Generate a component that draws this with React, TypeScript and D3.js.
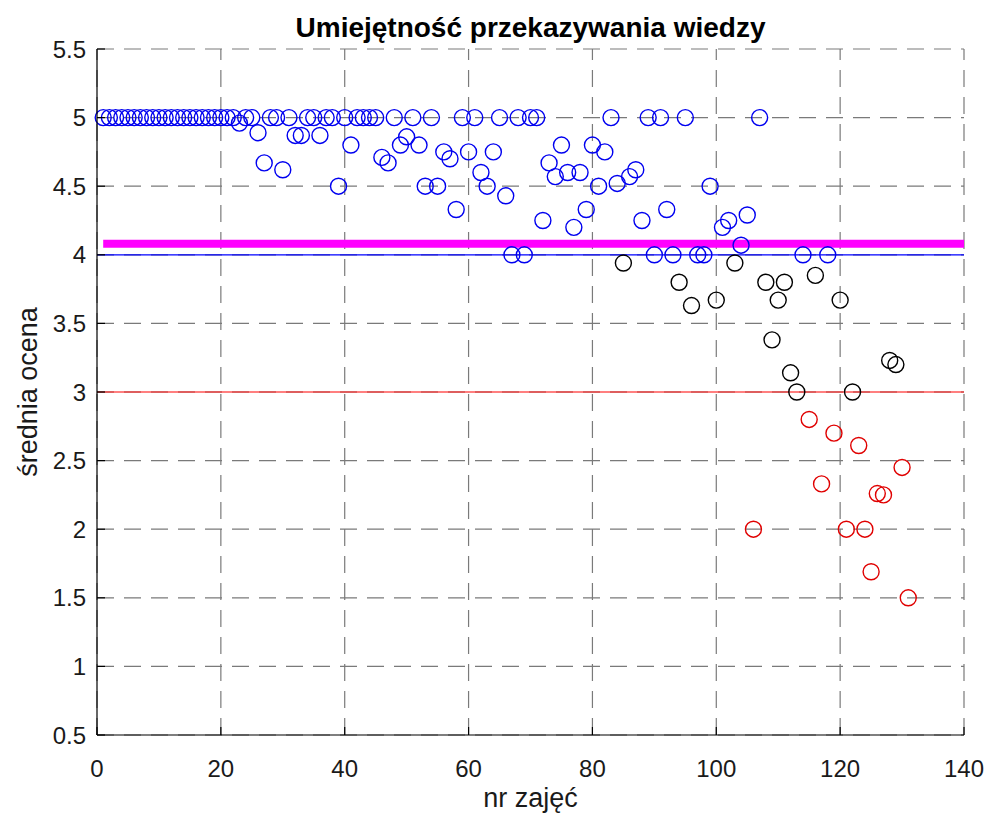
import React from "react";
import * as d3 from "d3";

// Data: lecture number -> mean score
const fives = [1,2,3,4,5,6,7,8,9,10,11,12,13,14,15,16,17,18,19,20,21,22,24,25,28,29,31,34,35,37,38,40,42,43,44,45,48,51,54,59,61,65,68,70,71,83,89,91,95,107];
const otherIdx = [23,26,27,30,32,33,36,39,41,46,47,49,50,52,53,55,56,57,58,60,62,63,64,66,67,69,72,73,74,75,76,77,78,79,80,81,82,84,85,86,87,88,90,92,93,94,96,97,98,99,100,101,102,103,104,105,106,108,109,110,111,112,113,114,115,116,117,118,119,120,121,122,123,124,125,126,127,128,129,130,131];
const otherVal = [4.96,4.89,4.67,4.62,4.87,4.87,4.87,4.5,4.8,4.71,4.67,4.8,4.86,4.8,4.5,4.5,4.75,4.7,4.33,4.75,4.6,4.5,4.75,4.43,4.0,4.0,4.25,4.67,4.57,4.8,4.6,4.2,4.6,4.33,4.8,4.5,4.75,4.52,3.94,4.57,4.62,4.25,4.0,4.33,4.0,3.8,3.63,4.0,4.0,4.5,3.67,4.2,4.25,3.94,4.07,4.29,2.0,3.8,3.38,3.67,3.8,3.14,3.0,4.0,2.8,3.85,2.33,4.0,2.7,3.67,2.0,3.0,2.61,2.0,1.69,2.26,2.25,3.23,3.2,2.45,1.5];

const meanLine = 4.08;
const goodLine = 4;
const badLine = 3;
const xTicks = [0, 20, 40, 60, 80, 100, 120, 140];
const yTicks = [0.5, 1, 1.5, 2, 2.5, 3, 3.5, 4, 4.5, 5, 5.5];

const title = "Umiejętność przekazywania wiedzy";
const xLabel = "nr zajęć";
const yLabel = "średnia ocena";

export default function App() {
  const W = 987, H = 816;
  const L = 97, R = 964, T = 49, B = 735;
  const x = d3.scaleLinear().domain([0, 140]).range([L, R]);
  const y = d3.scaleLinear().domain([0.5, 5.5]).range([B, T]);

  const points = [
    ...fives.map((i) => ({ i, v: 5 })),
    ...otherIdx.map((i, k) => ({ i, v: otherVal[k] })),
  ].sort((a, b) => a.i - b.i);

  const color = (v: number) => (v >= 4 ? "#0000f0" : v < 3 ? "#e00000" : "#000000");
  const font = "Arial, 'Liberation Sans', Helvetica, sans-serif";
  const dash = "17,10";

  return (
    <svg width={W} height={H} style={{ position: "absolute", left: 0, top: 0, background: "#fff" }} fontFamily={font}>
      <rect x={0} y={0} width={W} height={H} fill="#fff" />
      {/* grid */}
      {xTicks.map((t) => (
        <line key={"gx" + t} x1={x(t)} x2={x(t)} y1={B} y2={T} stroke="#7a7a7a" strokeWidth={1.2} strokeDasharray={dash} />
      ))}
      {yTicks.map((t) => (
        <line key={"gy" + t} x1={L} x2={R} y1={y(t)} y2={y(t)} stroke="#7a7a7a" strokeWidth={1.2} strokeDasharray={dash} />
      ))}
      {/* reference lines */}
      <line x1={x(0)} x2={x(140)} y1={y(badLine)} y2={y(badLine)} stroke="#ff0000" strokeWidth={1.2} />
      <line x1={x(0)} x2={x(140)} y1={y(goodLine)} y2={y(goodLine)} stroke="#0000ff" strokeWidth={1.2} />
      <line x1={x(1)} x2={x(140)} y1={y(meanLine)} y2={y(meanLine)} stroke="#ff00ff" strokeWidth={8} />
      {/* points */}
      {points.map((p) => (
        <circle key={p.i} cx={x(p.i)} cy={y(p.v)} r={8} fill="none" stroke={color(p.v)} strokeWidth={1.4} />
      ))}
      {/* axes */}
      <line x1={L} x2={L} y1={T} y2={B} stroke="#000" strokeWidth={1.2} />
      <line x1={L} x2={R} y1={B} y2={B} stroke="#000" strokeWidth={1.2} />
      {yTicks.map((t) => (
        <g key={"ty" + t}>
          <line x1={L} x2={L + 8} y1={y(t)} y2={y(t)} stroke="#000" strokeWidth={1.2} />
          <text x={L - 11} y={y(t)} dy="0.36em" textAnchor="end" fontSize={24} fill="#1a1a1a">{String(t)}</text>
        </g>
      ))}
      {xTicks.map((t) => (
        <g key={"tx" + t}>
          <line x1={x(t)} x2={x(t)} y1={B} y2={B - 8} stroke="#000" strokeWidth={1.2} />
          <text x={x(t)} y={B + 42} textAnchor="middle" fontSize={24} fill="#1a1a1a">{String(t)}</text>
        </g>
      ))}
      <text x={(L + R) / 2} y={807} textAnchor="middle" fontSize={27} fill="#1a1a1a">{xLabel}</text>
      <text transform={`translate(37, ${(T + B) / 2}) rotate(-90)`} textAnchor="middle" fontSize={27} fill="#1a1a1a">{yLabel}</text>
      <text x={(L + R) / 2} y={37} textAnchor="middle" fontSize={28} fontWeight="bold" fill="#000">{title}</text>
    </svg>
  );
}
